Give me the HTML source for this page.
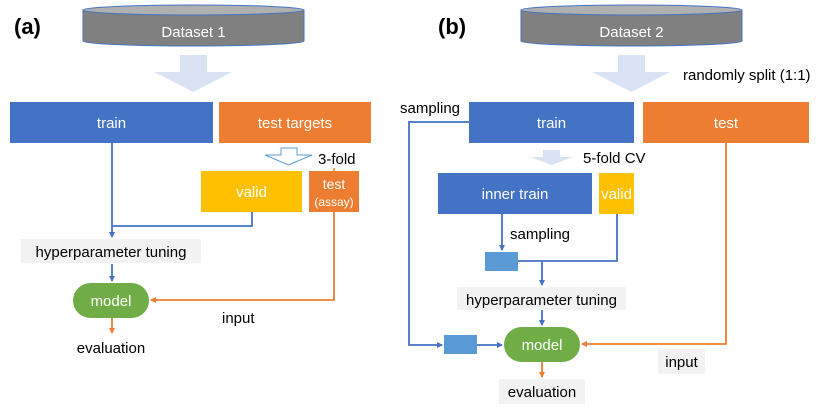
<!DOCTYPE html>
<html><head><meta charset="utf-8"><style>
html,body{margin:0;padding:0;background:#fff;}
svg{display:block;}
text{font-family:"Liberation Sans",Arial,sans-serif;}
</style></head><body>
<svg width="830" height="412" viewBox="0 0 830 412" xmlns="http://www.w3.org/2000/svg">
<defs>
<marker id="ab" markerWidth="6" markerHeight="6" refX="5" refY="3" orient="auto" markerUnits="userSpaceOnUse"><path d="M0,0 L6,3 L0,6 z" fill="#4472c4"/></marker>
<marker id="ao" markerWidth="6" markerHeight="6" refX="5" refY="3" orient="auto" markerUnits="userSpaceOnUse"><path d="M0,0 L6,3 L0,6 z" fill="#ed7d31"/></marker>
</defs>
<!-- (a) -->
<text x="14" y="34" font-size="22" font-weight="bold">(a)</text>
<path d="M83,10 L83,41 A110.5,5 0 0 0 304,41 L304,10 z" fill="#808080" stroke="#4472c4" stroke-width="1"/>
<ellipse cx="193.5" cy="10" rx="110.5" ry="5" fill="#b0b0b0" stroke="#4472c4" stroke-width="1"/>
<text x="193.5" y="37" font-size="15" fill="#fff" text-anchor="middle">Dataset 1</text>
<path d="M180,55 L207,55 L207,72 L232,72 L193.5,92 L154,72 L180,72 z" fill="#dae3f3"/>
<rect x="10" y="102" width="203" height="41" fill="#4472c4"/>
<text x="111.5" y="128" font-size="15" fill="#fff" text-anchor="middle">train</text>
<rect x="219" y="102" width="152" height="41" fill="#ed7d31"/>
<text x="295" y="128" font-size="15" fill="#fff" text-anchor="middle">test targets</text>
<path d="M281,148 L297,148 L297,155 L312,155 L288.5,165 L265,155 L281,155 z" fill="#fff" stroke="#5b9bd5" stroke-width="1"/>
<text x="318" y="164" font-size="15">3-fold</text>
<rect x="201" y="171" width="101" height="41" fill="#ffc000"/>
<text x="251.5" y="197" font-size="15" fill="#fff" text-anchor="middle">valid</text>
<rect x="309" y="171" width="50" height="41" fill="#ed7d31"/>
<text x="334" y="189" font-size="14" fill="#fff" text-anchor="middle">test</text>
<text x="334" y="206" font-size="12" fill="#fff" text-anchor="middle">(assay)</text>
<line x1="334" y1="168" x2="334" y2="171" stroke="#ed7d31" stroke-width="1.5"/>
<path d="M112,143 L112,237" fill="none" stroke="#4472c4" stroke-width="1.8" marker-end="url(#ab)"/>
<path d="M252,212 L252,226 L112,226" fill="none" stroke="#4472c4" stroke-width="1.8"/>
<rect x="21" y="239" width="180" height="24" fill="#f2f2f2"/>
<text x="111" y="257" font-size="15" text-anchor="middle">hyperparameter tuning</text>
<path d="M112,264 L112,281" fill="none" stroke="#4472c4" stroke-width="1.8" marker-end="url(#ab)"/>
<rect x="73" y="283" width="76" height="35" rx="17.5" fill="#70ad47"/>
<text x="111" y="306" font-size="15" fill="#fff" text-anchor="middle">model</text>
<path d="M334,212 L334,300 L151,300" fill="none" stroke="#ed7d31" stroke-width="1.8" marker-end="url(#ao)"/>
<text x="222" y="323" font-size="15">input</text>
<path d="M112,318 L112,333" fill="none" stroke="#ed7d31" stroke-width="1.8" marker-end="url(#ao)"/>
<text x="111" y="353" font-size="15" text-anchor="middle">evaluation</text>
<!-- (b) -->
<text x="438" y="34" font-size="22" font-weight="bold">(b)</text>
<path d="M521,10 L521,41 A110.5,5 0 0 0 742,41 L742,10 z" fill="#808080" stroke="#4472c4" stroke-width="1"/>
<ellipse cx="631.5" cy="10" rx="110.5" ry="5" fill="#b0b0b0" stroke="#4472c4" stroke-width="1"/>
<text x="631.5" y="37" font-size="15" fill="#fff" text-anchor="middle">Dataset 2</text>
<path d="M618,55 L645,55 L645,72 L670,72 L631.5,92 L592,72 L618,72 z" fill="#dae3f3"/>
<text x="683" y="80" font-size="15">randomly split (1:1)</text>
<text x="400" y="113" font-size="15">sampling</text>
<rect x="469" y="102" width="165" height="41" fill="#4472c4"/>
<text x="551.5" y="128" font-size="15" fill="#fff" text-anchor="middle">train</text>
<rect x="643" y="102" width="166" height="41" fill="#ed7d31"/>
<text x="726" y="128" font-size="15" fill="#fff" text-anchor="middle">test</text>
<path d="M543,150 L560,150 L560,157 L573,157 L551.5,165 L530,157 L543,157 z" fill="#dae3f3"/>
<text x="583" y="163" font-size="15">5-fold CV</text>
<rect x="438" y="173" width="154" height="41" fill="#4472c4"/>
<text x="515" y="199" font-size="15" fill="#fff" text-anchor="middle">inner train</text>
<rect x="599" y="173" width="35" height="41" fill="#ffc000"/>
<text x="616.5" y="199" font-size="15" fill="#fff" text-anchor="middle">valid</text>
<path d="M502,214 L502,250" fill="none" stroke="#4472c4" stroke-width="1.8" marker-end="url(#ab)"/>
<text x="510" y="239" font-size="15">sampling</text>
<rect x="485" y="252" width="33" height="19" fill="#5b9bd5"/>
<path d="M617,214 L617,261 L518,261" fill="none" stroke="#4472c4" stroke-width="1.8"/>
<path d="M542,261 L542,285" fill="none" stroke="#4472c4" stroke-width="1.8" marker-end="url(#ab)"/>
<rect x="457" y="287" width="169" height="23" fill="#f2f2f2"/>
<text x="541.5" y="305" font-size="15" text-anchor="middle">hyperparameter tuning</text>
<path d="M542,310 L542,325" fill="none" stroke="#4472c4" stroke-width="1.8" marker-end="url(#ab)"/>
<path d="M469,122 L409,122 L409,345 L442,345" fill="none" stroke="#4472c4" stroke-width="1.8" marker-end="url(#ab)"/>
<rect x="444" y="335" width="33" height="19" fill="#5b9bd5"/>
<path d="M477,345 L502,345" fill="none" stroke="#4472c4" stroke-width="1.8" marker-end="url(#ab)"/>
<rect x="504" y="327" width="76" height="35" rx="17.5" fill="#70ad47"/>
<text x="542" y="350" font-size="15" fill="#fff" text-anchor="middle">model</text>
<path d="M726,143 L726,344 L582,344" fill="none" stroke="#ed7d31" stroke-width="1.8" marker-end="url(#ao)"/>
<rect x="658" y="349" width="47" height="25" fill="#f2f2f2"/>
<text x="681.5" y="367" font-size="15" text-anchor="middle">input</text>
<path d="M542,362 L542,377" fill="none" stroke="#ed7d31" stroke-width="1.8" marker-end="url(#ao)"/>
<rect x="499" y="379" width="86" height="25" fill="#f2f2f2"/>
<text x="542" y="397" font-size="15" text-anchor="middle">evaluation</text>
</svg>
</body></html>
